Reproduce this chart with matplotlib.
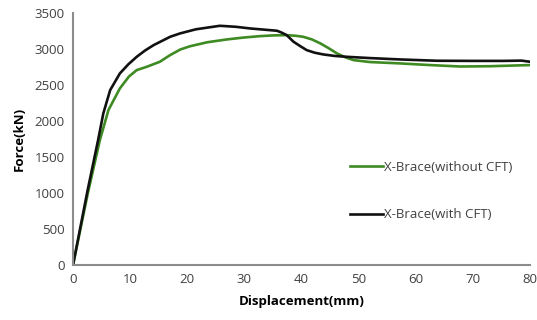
import matplotlib
matplotlib.use("Agg")
import matplotlib.pyplot as plt

plt.rcParams['font.family'] = ['Open Sans', 'DejaVu Sans']

# Données
x_sans = [0, 2.6, 4.7, 6.2, 8.2, 9.8, 11.15, 12.9, 15.2, 17.0, 18.8, 20.5, 23.5, 26.9, 29.8, 32.7,
          35.0, 37.4, 39.0, 40.3, 41.8, 43.3, 44.8, 46.2, 47.7, 49.1, 52.0, 57.3, 62.0, 67.8, 73.0, 80.0]
f_sans = [0, 1000, 1736, 2153, 2454, 2620, 2708, 2754, 2824, 2917, 2995, 3040, 3095, 3134, 3160, 3180,
          3190, 3194, 3185, 3171, 3135, 3079, 3010, 2940, 2885, 2847, 2820, 2801, 2780, 2758, 2762, 2778]

x_avec = [0, 2.5, 4.4, 5.3, 6.5, 8.2, 9.7, 11.15, 12.6, 14.1, 15.6, 17.0, 18.7, 21.5, 25.7, 28.5, 31.0,
          33.5, 35.7, 36.5, 37.4, 38.6, 39.8, 40.9, 42.3, 43.8, 45.8, 47.9, 52.0, 57.3, 63.7, 70.0, 75.3,
          78.5, 80.0]
f_avec = [0, 1018, 1740, 2106, 2430, 2662, 2790, 2893, 2980, 3055, 3115, 3171, 3217, 3275, 3324, 3310, 3287,
          3270, 3255, 3230, 3194, 3102, 3040, 2986, 2950, 2926, 2905, 2893, 2875, 2856, 2838, 2836, 2836,
          2840, 2824]

fig = plt.figure(figsize=(5.37, 3.2), dpi=100)
ax = fig.add_axes([0.136, 0.172, 0.851, 0.787])

ax.plot(x_sans, f_sans, color='#3E8A23', lw=1.9, label='X-Brace(without CFT)')
ax.plot(x_avec, f_avec, color='#111111', lw=1.9, label='X-Brace(with CFT)')

ax.set_xlim(0, 80)
ax.set_ylim(0, 3500)
ax.set_xticks(range(0, 81, 10))
ax.set_yticks(range(0, 3501, 500))

for s in ['top', 'right']:
    ax.spines[s].set_visible(False)
for s in ['left', 'bottom']:
    ax.spines[s].set_color('#8c8c8c')
    ax.spines[s].set_linewidth(1.5)
ax.tick_params(length=0, labelsize=9.5, colors='#404040', pad=6)

ax.set_xlabel('Displacement(mm)', fontsize=9.5, fontweight='bold', labelpad=6)
ax.set_ylabel('Force(kN)', fontsize=9.5, fontweight='bold', labelpad=6)

ax.legend(frameon=False, loc='upper left', bbox_to_anchor=(0.58, 0.46),
          fontsize=9.5, labelspacing=2.6, handlelength=2.5, handletextpad=0.1,
          labelcolor='#404040')

fig.savefig('out.png', dpi=100)
